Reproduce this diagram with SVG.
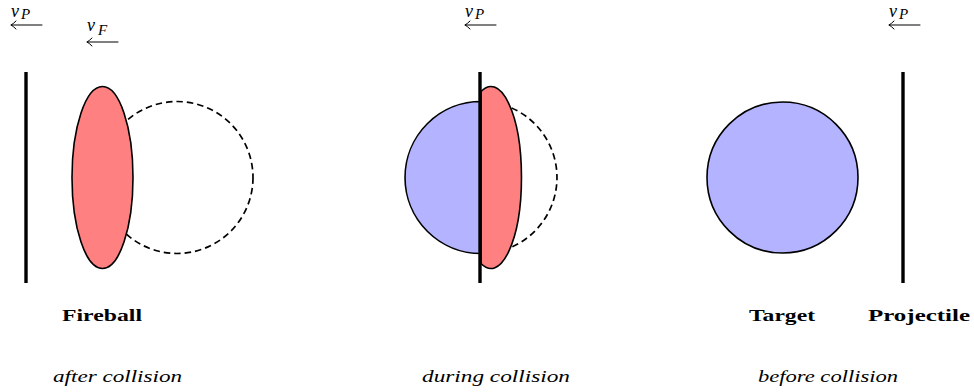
<svg xmlns="http://www.w3.org/2000/svg" width="974" height="392" viewBox="0 0 974 392">
<style>
.wall{stroke:#000;stroke-width:3.4;fill:none}
.fire{fill:#ff8080;stroke:#000;stroke-width:1.6}
.targ{fill:#b3b3ff;stroke:#000;stroke-width:1.6}
.ghost{fill:none;stroke:#000;stroke-width:1.7;stroke-dasharray:6.5,4}
.arr{fill:none;stroke:#000;stroke-width:1;stroke-linecap:round}
.lbl{font-family:"Liberation Serif","DejaVu Serif",serif;font-weight:bold;font-size:17px;fill:#000}
.cap{font-family:"Liberation Serif","DejaVu Serif",serif;font-style:italic;font-size:16px;fill:#000}
.mv{font-family:"Liberation Serif","DejaVu Serif",serif;font-style:italic;font-size:18px;fill:#000}
.ms{font-family:"Liberation Serif","DejaVu Serif",serif;font-style:italic;font-size:15px;fill:#000}
</style>
<defs>
<path id="larr" class="arr" d="M0,0 H31 M5,-4 Q2,-1 0,0 Q2,1 5,4"/>
</defs>

<!-- Panel 1: after collision -->
<g id="projectile-after"><line class="wall" x1="26" y1="72" x2="26" y2="283"/></g>
<g id="target-ghost-after"><circle class="ghost" cx="177" cy="177.5" r="76"/></g>
<g id="fireball-after"><ellipse class="fire" cx="102.5" cy="177.5" rx="30.5" ry="91"/></g>

<!-- Panel 2: during collision -->
<g id="target-ghost-during"><path class="ghost" d="M481,101.5 A76,76 0 0 1 481,253.5"/></g>
<g id="target-during"><path class="targ" d="M481,101.5 A76,76 0 0 0 481,253.5 Z"/></g>
<g id="fireball-during"><path class="fire" d="M481,91.5 A30.5,91 0 1 1 481,263.5 Z"/></g>
<g id="projectile-during"><line class="wall" x1="480" y1="72" x2="480" y2="283"/></g>

<!-- Panel 3: before collision -->
<g id="target-before"><circle class="targ" cx="782.5" cy="177.5" r="75.5"/></g>
<g id="projectile-before"><line class="wall" x1="903" y1="72" x2="903" y2="283"/></g>

<!-- velocity arrows -->
<g id="connectors">
<use href="#larr" x="11" y="25"/>
<use href="#larr" x="87" y="42"/>
<use href="#larr" x="465" y="25"/>
<use href="#larr" x="889" y="25"/>
</g>

<g id="velocity-labels">
<text x="11" y="16.5"><tspan class="mv">v</tspan><tspan class="ms" x="21" y="19">P</tspan></text>
<text x="87" y="31"><tspan class="mv">v</tspan><tspan class="ms" x="98" y="35">F</tspan></text>
<text x="465" y="16.5"><tspan class="mv">v</tspan><tspan class="ms" x="475" y="19">P</tspan></text>
<text x="889" y="16.5"><tspan class="mv">v</tspan><tspan class="ms" x="899" y="19">P</tspan></text>
</g>

<g id="labels">
<text class="lbl" x="62" y="321" textLength="80" lengthAdjust="spacingAndGlyphs">Fireball</text>
<text class="lbl" x="749" y="321" textLength="66" lengthAdjust="spacingAndGlyphs">Target</text>
<text class="lbl" x="868" y="321" textLength="102" lengthAdjust="spacingAndGlyphs">Projectile</text>
<text class="cap" x="53" y="382" textLength="129" lengthAdjust="spacingAndGlyphs">after collision</text>
<text class="cap" x="422" y="382" textLength="148" lengthAdjust="spacingAndGlyphs">during collision</text>
<text class="cap" x="758" y="382" textLength="140" lengthAdjust="spacingAndGlyphs">before collision</text>
</g>
</svg>
